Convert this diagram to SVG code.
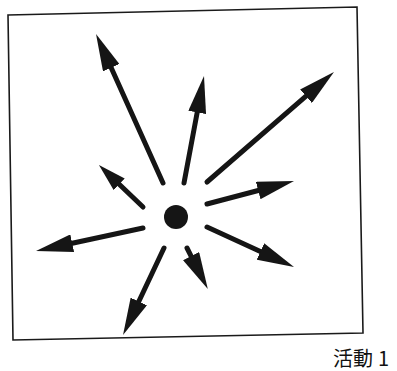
<svg xmlns="http://www.w3.org/2000/svg" width="397" height="371" viewBox="0 0 397 371">
  <style>
    .frame { fill: none; stroke: #1a1a1a; stroke-width: 1.6; }
    .shaft { fill: none; stroke: #151515; stroke-width: 5; stroke-linecap: round; }
    .big { marker-end: url(#headL); }
    .small { marker-end: url(#headS); }
    .label { font-family: "Noto Sans CJK JP", "Noto Sans CJK SC", sans-serif; font-size: 20px; fill: #111; }
  </style>
  <defs>
    <marker id="headL" viewBox="0 0 37 18" refX="0" refY="9" markerWidth="37" markerHeight="18" markerUnits="userSpaceOnUse" orient="auto">
      <path d="M0,0 L37,9 L0,18 z" fill="#151515"/>
    </marker>
    <marker id="headS" viewBox="0 0 28 16" refX="0" refY="8" markerWidth="28" markerHeight="16" markerUnits="userSpaceOnUse" orient="auto">
      <path d="M0,0 L28,8 L0,16 z" fill="#151515"/>
    </marker>
  </defs>
  <rect width="397" height="371" fill="#fff"/>
  <polygon class="frame" points="8,15 357,7 363,333 13,340"/>
  <g id="center">
    <circle cx="176" cy="217" r="12" fill="#151515"/>
  </g>
  <g id="connectors">
    <line class="shaft big" x1="163" y1="183" x2="111.2" y2="67.7"/>
    <line class="shaft big" x1="184" y1="183" x2="197.2" y2="112.4"/>
    <line class="shaft big" x1="207" y1="182" x2="306" y2="96.2"/>
    <line class="shaft big" x1="207" y1="204" x2="258.2" y2="190.5"/>
    <line class="shaft big" x1="207" y1="227" x2="260.4" y2="251.5"/>
    <line class="shaft big" x1="187" y1="248" x2="191.1" y2="256.1"/>
    <line class="shaft big" x1="164" y1="248" x2="138.8" y2="301.5"/>
    <line class="shaft big" x1="143" y1="228" x2="72.2" y2="243.2"/>
    <line class="shaft small" x1="143" y1="207" x2="119.2" y2="184.3"/>
  </g>
  <g id="caption">
    <text class="label" x="333" y="366">活動<tspan dx="5">1</tspan></text>
  </g>
</svg>
